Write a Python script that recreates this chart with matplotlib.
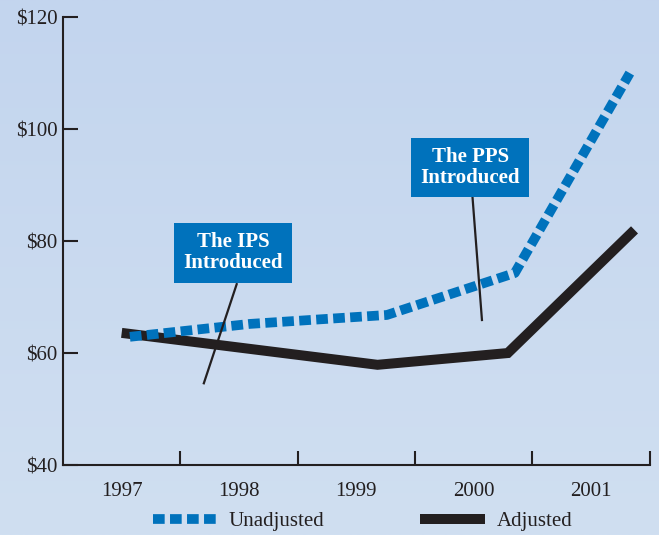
import numpy as np
import matplotlib
matplotlib.use("Agg")
import matplotlib.pyplot as plt
from matplotlib.ticker import FixedLocator

# values (x in fractional years)
unadj_x = [1997.07, 1998.09, 1999.26, 2000.35, 2001.33]
unadj_y = [62.9, 65.2, 66.8, 74.3, 110.0]
adj_x = [1997.0, 1999.18, 2000.29, 2001.37]
adj_y = [63.6, 57.9, 60.0, 82.0]

years = [1997, 1998, 1999, 2000, 2001]
year_labels = ["1997", "1998", "1999", "2000", "2001"]
y_ticks = [40, 60, 80, 100, 120]
y_labels = ["$40", "$60", "$80", "$100", "$120"]

notes = ["The IPS\nIntroduced", "The PPS\nIntroduced"]
note_pos = [(1997.95, 77.9), (1999.97, 93.1)]
note_lines = [((1997.98, 72.3), (1997.70, 54.6)),
              ((1999.99, 87.7), (2000.07, 65.9))]

ink = "#231f20"
blue = "#0072bc"
bg = "#c8d9ef"

plt.rcParams["font.family"] = ["Liberation Serif", "DejaVu Serif"]

fig = plt.figure(figsize=(6.59, 5.35), dpi=100)
fig.patch.set_facecolor(bg)

# soft vertical gradient in the background
grad = fig.add_axes([0, 0, 1, 1], zorder=-10)
g = np.linspace(0, 1, 256).reshape(-1, 1)
grad.imshow(g, aspect="auto", cmap=matplotlib.colors.LinearSegmentedColormap.from_list(
    "bgc", ["#c3d5ee", "#d0dff1"]), extent=[0, 1, 0, 1], origin="upper")
grad.axis("off")

ax = fig.add_axes([0.0956, 0.1308, 0.8904, 0.8372])
ax.patch.set_alpha(0)

ax.plot(unadj_x, unadj_y, color=blue, lw=7.0, linestyle=(0, (1.2, 0.55)),
        dash_capstyle="butt", solid_joinstyle="miter", label="Unadjusted", zorder=3)
ax.plot(adj_x, adj_y, color=ink, lw=7.2, solid_capstyle="butt",
        solid_joinstyle="miter", label="Adjusted", zorder=2)

for txt, (tx, ty) in zip(notes, note_pos):
    ax.text(tx, ty, txt, ha="center", va="center", color="white", fontsize=15,
            fontweight="bold", linespacing=1.05, zorder=5,
            bbox=dict(boxstyle="square,pad=0.45", fc=blue, ec="none"))
for (p0, p1) in note_lines:
    ax.plot([p0[0], p1[0]], [p0[1], p1[1]], color=ink, lw=1.6, zorder=4)

ax.set_xlim(1996.5, 2001.5)
ax.set_ylim(40, 120)

ax.set_yticks(y_ticks)
ax.set_yticklabels(y_labels)
ax.set_xticks(years)
ax.set_xticklabels(year_labels)
ax.xaxis.set_minor_locator(FixedLocator([1997.5, 1998.5, 1999.5, 2000.5, 2001.5]))

ax.tick_params(axis="x", which="major", length=0, pad=12, labelsize=15, labelcolor=ink)
ax.tick_params(axis="x", which="minor", direction="in", length=10, width=1.5, color=ink)
ax.tick_params(axis="y", direction="in", length=11, width=1.5, color=ink,
               pad=4, labelsize=15, labelcolor=ink)

for s in ["top", "right"]:
    ax.spines[s].set_visible(False)
for s in ["left", "bottom"]:
    ax.spines[s].set_color(ink)
    ax.spines[s].set_linewidth(1.5)

leg = fig.legend(loc="center", bbox_to_anchor=(0.55, 0.026), ncol=2, frameon=False,
                 fontsize=15, handlelength=3.1, columnspacing=4.6, handletextpad=0.55,
                 borderpad=0, borderaxespad=0)
for t in leg.get_texts():
    t.set_color(ink)

fig.savefig("out.png", dpi=100, facecolor=fig.get_facecolor())
